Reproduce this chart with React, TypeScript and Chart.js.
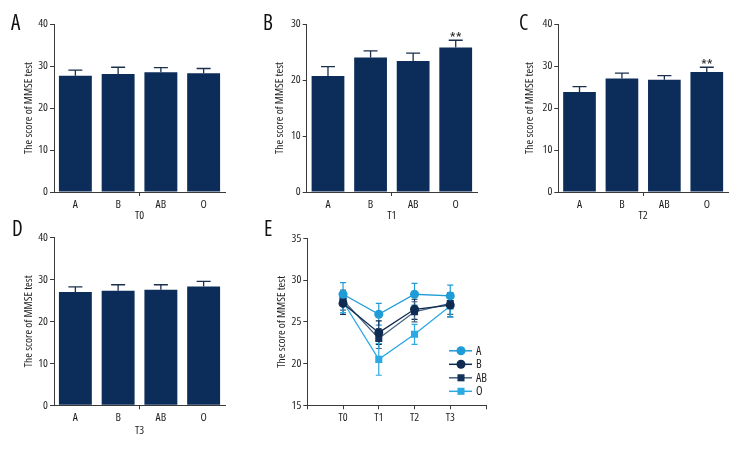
import React, { useEffect, useRef } from 'react';
import { Chart, registerables } from 'chart.js';

Chart.register(...registerables);

const FAMILY = '"Open Sans", "DejaVu Sans Condensed", sans-serif';
Chart.defaults.font.family = FAMILY;
// font-stretch goes in front of the size in the canvas font string
(Chart.defaults.font as any).weight = 'condensed';

// ---------- data ----------
const groups = ['A', 'B', 'AB', 'O'];
const timeLabels = ['T0', 'T1', 'T2', 'T3'];
const yAxisTitle = 'The score of MMSE test';

const t0Means = [27.7, 28.1, 28.5, 28.3];
const t0Errs = [1.3, 1.6, 1.1, 1.1];
const t0Sig = ['', '', '', ''];

const t1Means = [20.7, 24.0, 23.4, 25.8];
const t1Errs = [1.7, 1.2, 1.4, 1.3];
const t1Sig = ['', '', '', '**'];

const t2Means = [23.8, 27.0, 26.7, 28.6];
const t2Errs = [1.3, 1.3, 1.0, 1.1];
const t2Sig = ['', '', '', '**'];

const t3Means = [27.0, 27.3, 27.5, 28.3];
const t3Errs = [1.2, 1.4, 1.2, 1.2];
const t3Sig = ['', '', '', ''];

// Panel E: each group across time points
const lineA = [28.3, 25.9, 28.3, 28.1];
const lineAErr = [1.4, 1.3, 1.3, 1.3];
const lineB = [27.2, 23.7, 26.5, 27.0];
const lineBErr = [1.3, 1.4, 1.2, 1.4];
const lineAB = [27.6, 23.0, 26.2, 27.2];
const lineABErr = [1.2, 1.2, 1.2, 1.3];
const lineO = [27.4, 20.5, 23.5, 26.9];
const lineOErr = [1.3, 1.9, 1.2, 1.3];

// ---------- styles ----------
const AXIS = '#3a3a3a';
const TEXT = '#1e1e1e';
const BAR = '#0c2d59';
const ERR = '#1c2f4c';
const COL_A = '#1f9bd7';
const COL_B = '#0f2b52';
const COL_AB_LINE = '#44607f';
const COL_AB_PT = '#13315b';
const COL_O = '#2aa9e2';

const barErrPlugin = {
  id: 'barErr',
  afterDatasetsDraw(chart: any) {
    const opts = chart.options.plugins.barErr;
    const meta = chart.getDatasetMeta(0);
    const ys = chart.scales.y;
    const ctx = chart.ctx;
    ctx.save();
    meta.data.forEach((bar: any, i: number) => {
      const v = chart.data.datasets[0].data[i];
      const yv = ys.getPixelForValue(v);
      const yt = ys.getPixelForValue(v + opts.errs[i]);
      ctx.strokeStyle = ERR;
      ctx.lineWidth = 1.3;
      ctx.beginPath();
      ctx.moveTo(bar.x, yv);
      ctx.lineTo(bar.x, yt);
      ctx.moveTo(bar.x - 7, yt);
      ctx.lineTo(bar.x + 7, yt);
      ctx.stroke();
      if (opts.sig[i]) {
        ctx.fillStyle = TEXT;
        ctx.font = 'condensed 15px ' + FAMILY;
        ctx.textAlign = 'center';
        ctx.textBaseline = 'alphabetic';
        ctx.fillText(opts.sig[i], bar.x, yt + 3);
      }
    });
    ctx.restore();
  },
};

const lineErrPlugin = {
  id: 'lineErr',
  beforeDatasetsDraw(chart: any) {
    const opts = chart.options.plugins.lineErr;
    const ctx = chart.ctx;
    const xs = chart.scales.x;
    const ys = chart.scales.y;
    ctx.save();
    chart.data.datasets.forEach((ds: any, d: number) => {
      ctx.strokeStyle = ds.borderColor;
      ctx.lineWidth = 1.2;
      ds.data.forEach((pt: any, i: number) => {
        const e = opts.errs[d][i];
        const x = xs.getPixelForValue(pt.x);
        const y1 = ys.getPixelForValue(pt.y - e);
        const y2 = ys.getPixelForValue(pt.y + e);
        ctx.beginPath();
        ctx.moveTo(x, y1);
        ctx.lineTo(x, y2);
        ctx.moveTo(x - 3, y1);
        ctx.lineTo(x + 3, y1);
        ctx.moveTo(x - 3, y2);
        ctx.lineTo(x + 3, y2);
        ctx.stroke();
      });
    });
    ctx.restore();
  },
  afterDraw(chart: any) {
    const ctx = chart.ctx;
    const area = chart.chartArea;
    ctx.save();
    chart.data.datasets.forEach((ds: any, i: number) => {
      const y = area.top + 112.5 + i * 13.5;
      const x0 = area.right - 37;
      const x1 = area.right - 14;
      const xm = area.right - 25;
      ctx.strokeStyle = ds.borderColor;
      ctx.lineWidth = 1.5;
      ctx.beginPath();
      ctx.moveTo(x0, y);
      ctx.lineTo(x1, y);
      ctx.stroke();
      ctx.fillStyle = ds.pointBackgroundColor;
      ctx.beginPath();
      if (ds.pointStyle === 'rect') {
        const s = ds.pointRadius * Math.SQRT1_2;
        ctx.rect(xm - s, y - s, 2 * s, 2 * s);
      } else {
        ctx.arc(xm, y, ds.pointRadius, 0, Math.PI * 2);
      }
      ctx.fill();
      ctx.fillStyle = TEXT;
      ctx.font = 'condensed 12px ' + FAMILY;
      ctx.textAlign = 'left';
      ctx.textBaseline = 'middle';
      ctx.fillText(ds.label, area.right - 10, y + 0.5);
    });
    ctx.restore();
  },
};

function ChartBox({ left, top, width, height, config }: any) {
  const ref = useRef<HTMLCanvasElement>(null);
  useEffect(() => {
    if (!ref.current) return;
    const chart = new Chart(ref.current, config());
    return () => chart.destroy();
  }, []);
  return (
    <canvas
      ref={ref}
      width={width}
      height={height}
      style={{ position: 'absolute', left, top, width, height }}
    />
  );
}

function barConfig(p: any) {
  return () => ({
    type: 'bar',
    data: {
      labels: groups,
      datasets: [
        {
          data: p.means,
          backgroundColor: BAR,
          borderWidth: 0,
          barPercentage: 0.77,
          categoryPercentage: 1,
        },
      ],
    },
    options: {
      responsive: false,
      animation: false,
      devicePixelRatio: 1,
      layout: { padding: { left: 0, top: p.padTop, right: p.padRight, bottom: 0 } },
      plugins: {
        legend: { display: false },
        tooltip: { enabled: false },
        barErr: { errs: p.errs, sig: p.sig },
      },
      scales: {
        x: {
          offset: true,
          grid: {
            offset: true,
            drawOnChartArea: false,
            tickLength: 4,
            tickColor: (c: any) => (c.index === 2 ? AXIS : 'rgba(0,0,0,0)'),
          },
          border: { color: AXIS, width: 1 },
          ticks: { color: TEXT, font: { size: 11.5 }, padding: 2 },
          title: {
            display: true,
            text: p.xTitle,
            color: TEXT,
            font: { size: 11.5 },
            padding: { top: 0, bottom: p.xTitlePad },
          },
          afterFit: (s: any) => {
            s.height = p.xHeight;
          },
        },
        y: {
          min: 0,
          max: p.yMax,
          ticks: { stepSize: 10, color: TEXT, font: { size: 11.5 }, padding: 2 },
          grid: { drawOnChartArea: false, tickLength: 4, tickColor: AXIS },
          border: { color: AXIS, width: 1 },
          title: {
            display: true,
            text: yAxisTitle,
            color: TEXT,
            font: { size: 11.5 },
            padding: { top: p.yTitleCenter - 6.9, bottom: 0 },
          },
          afterFit: (s: any) => {
            s.width = p.yWidth;
          },
        },
      },
    },
    plugins: [barErrPlugin],
  });
}

function lineConfig() {
  const mk = (vals: number[]) => vals.map((v, i) => ({ x: i, y: v }));
  return () => ({
    type: 'line',
    data: {
      datasets: [
        { label: 'A', data: mk(lineA), borderColor: COL_A, pointBackgroundColor: COL_A, pointBorderWidth: 0, pointStyle: 'circle', pointRadius: 4.5, borderWidth: 1.3 },
        { label: 'B', data: mk(lineB), borderColor: COL_B, pointBackgroundColor: COL_B, pointBorderWidth: 0, pointStyle: 'circle', pointRadius: 4.5, borderWidth: 1.3 },
        { label: 'AB', data: mk(lineAB), borderColor: COL_AB_LINE, pointBackgroundColor: COL_AB_PT, pointBorderWidth: 0, pointStyle: 'rect', pointRadius: 5, borderWidth: 1.3 },
        { label: 'O', data: mk(lineO), borderColor: COL_O, pointBackgroundColor: COL_O, pointBorderWidth: 0, pointStyle: 'rect', pointRadius: 5, borderWidth: 1.3 },
      ],
    },
    options: {
      responsive: false,
      animation: false,
      devicePixelRatio: 1,
      layout: { padding: { left: 0, top: 18.3, right: 14, bottom: 0 } },
      plugins: {
        legend: { display: false },
        tooltip: { enabled: false },
        lineErr: { errs: [lineAErr, lineBErr, lineABErr, lineOErr] },
      },
      scales: {
        x: {
          type: 'linear',
          min: -1,
          max: 4,
          ticks: {
            stepSize: 1,
            color: TEXT,
            font: { size: 11.5 },
            padding: 2,
            callback: (v: any) => timeLabels[v] ?? '',
          },
          grid: { drawOnChartArea: false, tickLength: 4, tickColor: AXIS },
          border: { color: AXIS, width: 1 },
          afterFit: (s: any) => {
            s.height = 50.7;
          },
        },
        y: {
          min: 15,
          max: 35,
          ticks: { stepSize: 5, color: TEXT, font: { size: 11.5 }, padding: 2 },
          grid: { drawOnChartArea: false, tickLength: 4, tickColor: AXIS },
          border: { color: AXIS, width: 1 },
          title: {
            display: true,
            text: yAxisTitle,
            color: TEXT,
            font: { size: 11.5 },
            padding: { top: 31.7 - 6.9, bottom: 0 },
          },
          afterFit: (s: any) => {
            s.width = 57.3;
          },
        },
      },
    },
    plugins: [lineErrPlugin],
  });
}

const letterStyle = (left: number, top: number): React.CSSProperties => ({
  position: 'absolute',
  left,
  top,
  fontFamily: FAMILY,
  fontStretch: 'condensed',
  fontSize: 21,
  lineHeight: '20px',
  color: '#111',
});

export default function App() {
  return (
    <div style={{ position: 'fixed', left: 0, top: 0, width: 756, height: 456, background: '#fff', overflow: 'hidden' }}>
      <ChartBox left={0} top={0} width={240} height={226}
        config={barConfig({ means: t0Means, errs: t0Errs, sig: t0Sig, xTitle: 'T0', yMax: 40, padTop: 24, padRight: 15, xHeight: 34, xTitlePad: 3.1, yTitleCenter: 29, yWidth: 54 })} />
      <ChartBox left={250} top={0} width={240} height={226}
        config={barConfig({ means: t1Means, errs: t1Errs, sig: t1Sig, xTitle: 'T1', yMax: 30, padTop: 24, padRight: 13, xHeight: 34, xTitlePad: 3.1, yTitleCenter: 29.3, yWidth: 56.7 })} />
      <ChartBox left={510} top={0} width={246} height={226}
        config={barConfig({ means: t2Means, errs: t2Errs, sig: t2Sig, xTitle: 'T2', yMax: 40, padTop: 24, padRight: 28, xHeight: 34, xTitlePad: 3.1, yTitleCenter: 20, yWidth: 48.3 })} />
      <ChartBox left={0} top={220} width={240} height={236}
        config={barConfig({ means: t3Means, errs: t3Errs, sig: t3Sig, xTitle: 'T3', yMax: 40, padTop: 17.3, padRight: 15, xHeight: 50.7, xTitlePad: 18.1, yTitleCenter: 28.5, yWidth: 54 })} />
      <ChartBox left={250} top={220} width={250} height={236} config={lineConfig()} />
      <div style={letterStyle(11, 12)}>A</div>
      <div style={letterStyle(263, 12)}>B</div>
      <div style={letterStyle(519, 12)}>C</div>
      <div style={letterStyle(12, 218)}>D</div>
      <div style={letterStyle(264, 218)}>E</div>
    </div>
  );
}
